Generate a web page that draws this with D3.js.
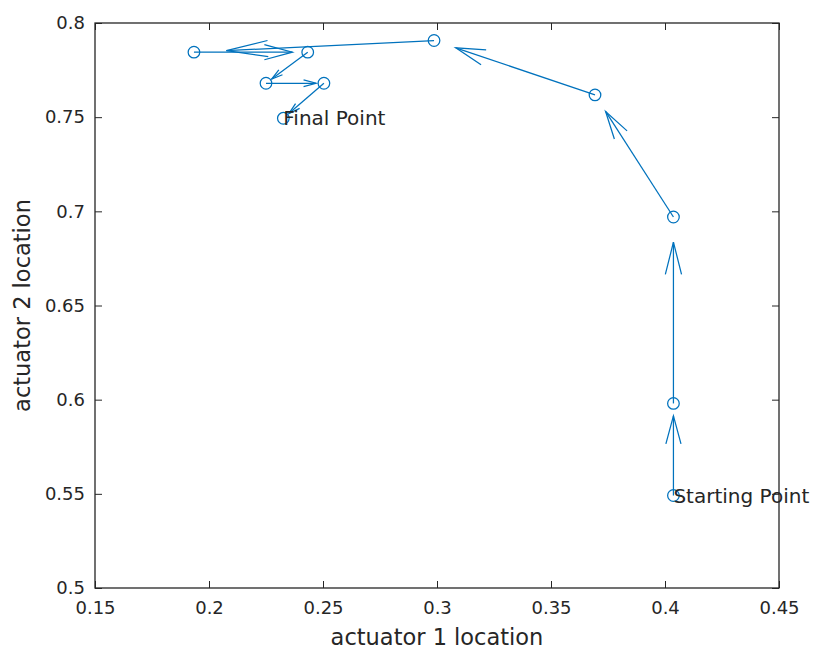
<!DOCTYPE html>
<html>
<head>
<meta charset="utf-8">
<script src="https://cdn.jsdelivr.net/npm/d3@7"></script>
<style>
  html, body { margin: 0; padding: 0; background: #fff; }
  svg { display: block; }
  text { font-family: "DejaVu Sans", sans-serif; fill: #262626; }
</style>
</head>
<body>
<svg id="chart" width="816" height="657"></svg>
<script>
// Data: trajectory of actuator locations (in order)
const actuator1 = [0.4037, 0.4037, 0.4037, 0.3693, 0.2987, 0.1934, 0.2433, 0.2250, 0.2504, 0.2326];
const actuator2 = [0.5491, 0.5980, 0.6970, 0.7618, 0.7907, 0.7845, 0.7845, 0.7680, 0.7680, 0.7494];
const xTicks = [0.15, 0.2, 0.25, 0.3, 0.35, 0.4, 0.45];
const xTickLabels = ["0.15", "0.2", "0.25", "0.3", "0.35", "0.4", "0.45"];
const yTicks = [0.5, 0.55, 0.6, 0.65, 0.7, 0.75, 0.8];
const yTickLabels = ["0.5", "0.55", "0.6", "0.65", "0.7", "0.75", "0.8"];
const annotations = [
  { index: 0, text: "Starting Point" },
  { index: 9, text: "Final Point" }
];
const xLabel = "actuator 1 location";
const yLabel = "actuator 2 location";

const W = 816, H = 657;
const margin = { left: 95, top: 23, right: 37, bottom: 69 };
const iw = W - margin.left - margin.right;
const ih = H - margin.top - margin.bottom;
const blue = "#0072BD";
const axisColor = "#262626";

const svg = d3.select("#chart");
const g = svg.append("g").attr("transform", `translate(${margin.left},${margin.top})`);

const x = d3.scaleLinear().domain([0.15, 0.45]).range([0, iw]);
const y = d3.scaleLinear().domain([0.5, 0.8]).range([ih, 0]);

const tickLen = 7;
const tickFont = "18px";

// Box
g.append("rect").attr("x", 0).attr("y", 0).attr("width", iw).attr("height", ih)
  .attr("fill", "none").attr("stroke", axisColor).attr("stroke-width", 1.3);

// Axes
const xAxis = g.append("g").attr("transform", `translate(0,${ih})`)
  .call(d3.axisBottom(x).tickValues(xTicks).tickFormat((d, i) => xTickLabels[i])
    .tickSizeInner(-tickLen).tickSizeOuter(0).tickPadding(13));
const xAxisTop = g.append("g")
  .call(d3.axisTop(x).tickValues(xTicks).tickFormat("")
    .tickSizeInner(-tickLen).tickSizeOuter(0));
const yAxis = g.append("g")
  .call(d3.axisLeft(y).tickValues(yTicks).tickFormat((d, i) => yTickLabels[i])
    .tickSizeInner(-tickLen).tickSizeOuter(0).tickPadding(10));
const yAxisRight = g.append("g").attr("transform", `translate(${iw},0)`)
  .call(d3.axisRight(y).tickValues(yTicks).tickFormat("")
    .tickSizeInner(-tickLen).tickSizeOuter(0));

[xAxis, xAxisTop, yAxis, yAxisRight].forEach(a => {
  a.select(".domain").remove();
  a.selectAll(".tick line").attr("stroke", axisColor).attr("stroke-width", 1);
  a.selectAll(".tick text").attr("fill", axisColor)
    .style("font-family", '"DejaVu Sans", sans-serif').style("font-size", tickFont);
});

// Axis labels
svg.append("text")
  .attr("x", margin.left + iw / 2).attr("y", 645)
  .attr("text-anchor", "middle").style("font-size", "22.5px").text(xLabel);
svg.append("text")
  .attr("transform", `translate(30,${margin.top + ih / 2}) rotate(-90)`)
  .attr("text-anchor", "middle").style("font-size", "22.5px").text(yLabel);

// Quiver arrows (from each point toward the next, auto-scaled)
const scale = 0.865;
const pts = actuator1.map((v, i) => [x(v), y(actuator2[i])]);
const arrows = g.append("g").attr("fill", "none").attr("stroke", blue).attr("stroke-width", 1.25);
for (let i = 0; i < pts.length - 1; i++) {
  const [x0, y0] = pts[i];
  const dx = (pts[i + 1][0] - x0) * scale;
  const dy = (pts[i + 1][1] - y0) * scale;
  const L = Math.hypot(dx, dy);
  const ux = dx / L, uy = dy / L;
  const tx = x0 + dx, ty = y0 + dy;
  const hl = L < 70 ? 0.25 * L : Math.max(0.2 * L, 28);
  const hw = 0.27 * Math.min(hl, 30);
  arrows.append("path").attr("d", d3.line()([[x0, y0], [tx, ty]]));
  arrows.append("path").attr("d", d3.line()([
    [tx - ux * hl - uy * hw, ty - uy * hl + ux * hw],
    [tx, ty],
    [tx - ux * hl + uy * hw, ty - uy * hl - ux * hw]
  ]));
}

// Markers
g.append("g").selectAll("circle").data(pts).join("circle")
  .attr("cx", d => d[0]).attr("cy", d => d[1]).attr("r", 5.8)
  .attr("fill", "none").attr("stroke", blue).attr("stroke-width", 1.25);

// Annotations
g.append("g").selectAll("text").data(annotations).join("text")
  .attr("x", d => pts[d.index][0]).attr("y", d => pts[d.index][1])
  .attr("dy", "0.35em").style("font-size", "20px").text(d => d.text);
</script>
</body>
</html>
